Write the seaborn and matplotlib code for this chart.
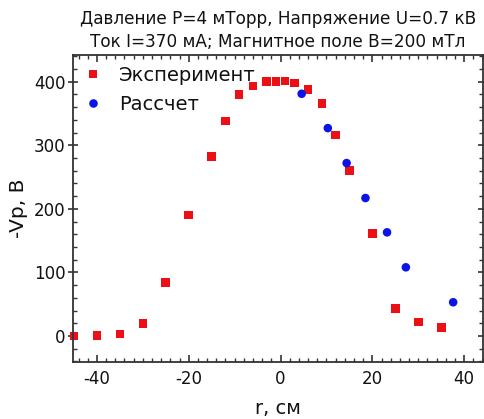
import numpy as np
import pandas as pd
import matplotlib
matplotlib.use("Agg")
import matplotlib.pyplot as plt
import seaborn as sns
from matplotlib.ticker import MultipleLocator

# ---- data ----
exp_r = [-45, -40, -35, -30, -25, -20, -15, -12, -9, -6, -3, -1, 1, 3, 6, 9, 12, 15, 20, 25, 30, 35]
exp_v = [0, 1, 3, 20, 84, 190, 282, 338, 380, 393, 400, 400, 401, 398, 388, 366, 316, 260, 161, 43, 22, 13]
calc_r = [4.6, 10.3, 14.4, 18.5, 23.2, 27.3, 37.6]
calc_v = [381, 327, 272, 217, 163, 108, 53]

label_exp = "Эксперимент"
label_calc = "Рассчет"
title = "Давление P=4 мТорр, Напряжение U=0.7 кВ\nТок I=370 мА; Магнитное поле B=200 мТл"
xlabel = "r, см"
ylabel = "-Vp, В"

sns.set_style("ticks")
plt.rcParams['font.family'] = ['DejaVu Sans']
plt.rcParams['axes.unicode_minus'] = False
plt.rcParams['text.color'] = '#111111'
plt.rcParams['axes.labelcolor'] = '#111111'
plt.rcParams['xtick.labelcolor'] = '#111111'
plt.rcParams['ytick.labelcolor'] = '#111111'

df = pd.concat([
    pd.DataFrame({"r": exp_r, "v": exp_v, "kind": label_exp}),
    pd.DataFrame({"r": calc_r, "v": calc_v, "kind": label_calc}),
], ignore_index=True)

fig = plt.figure(figsize=(4.84, 4.19), dpi=100)
ax = fig.add_axes([73/484, (419-362)/419, (483-73)/484, (362-55)/419])

sns.scatterplot(data=df, x="r", y="v", hue="kind", style="kind",
                palette={label_exp: "#ec1016", label_calc: "#0a14e8"},
                markers={label_exp: "s", label_calc: "o"},
                s=38, linewidth=0, ax=ax, clip_on=False)

ax.set_xlim(-45.2, 44.1)
ax.set_ylim(-41, 442)
ax.xaxis.set_major_locator(MultipleLocator(20))
ax.xaxis.set_minor_locator(MultipleLocator(2))
ax.yaxis.set_major_locator(MultipleLocator(100))
ax.yaxis.set_minor_locator(MultipleLocator(20))

tc = '#333333'
ax.tick_params(axis='x', which='major', direction='in', length=5, width=1.2,
               top=True, bottom=True, labelsize=12, pad=6, color=tc)
ax.tick_params(axis='x', which='minor', direction='in', length=3, width=1.0,
               top=True, bottom=True, color=tc)
ax.tick_params(axis='y', which='major', direction='inout', length=7, width=1.2,
               left=True, right=True, labelsize=12, pad=2, color=tc)
ax.tick_params(axis='y', which='minor', direction='in', length=3, width=1.0,
               left=True, right=True, color=tc)
for sp in ax.spines.values():
    sp.set_visible(True)
    sp.set_linewidth(1.3)
    sp.set_color(tc)

ax.set_xlabel(xlabel, fontsize=14, labelpad=8)
ax.set_ylabel(ylabel, fontsize=14.5, labelpad=4)
ax.set_title(title, fontsize=12.2, loc='center', pad=6, linespacing=1.3)

leg = ax.legend(loc='upper left', bbox_to_anchor=(0.0, 1.0), frameon=False,
                fontsize=14, handlelength=1.0, handletextpad=0.82,
                labelspacing=0.52, borderpad=0.3, borderaxespad=0.25,
                markerscale=1.0)

fig.savefig("out.png", dpi=100)
